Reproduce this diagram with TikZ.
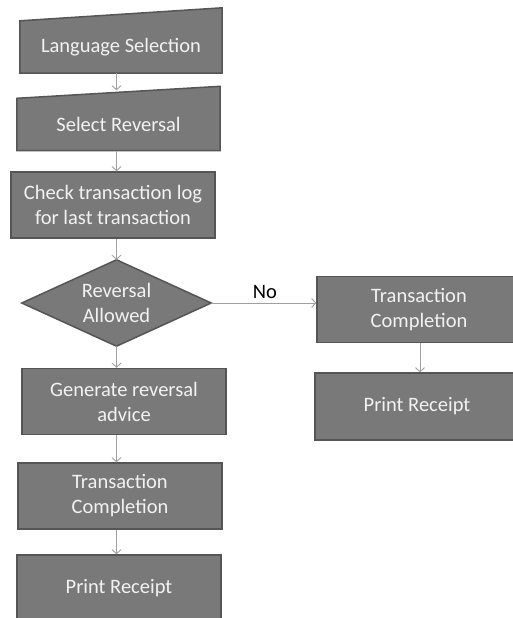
\documentclass[tikz,border=0pt]{standalone}
\usepackage{fontspec}
\setmainfont{Carlito}
\usetikzlibrary{arrows.meta,calc,backgrounds}
\definecolor{boxfill}{HTML}{797979}
\definecolor{boxline}{HTML}{555555}
\definecolor{boxtext}{HTML}{F2F2F2}
\definecolor{arrowc}{HTML}{A0A0A0}
\begin{document}
\begin{tikzpicture}[x=1pt,y=-1pt,
  txt/.style={text=boxtext, font=\fontsize{20.5}{25}\selectfont, align=center, inner sep=0pt},
  box/.style={txt, draw=boxline, fill=boxfill, line width=1.5pt, minimum width=204pt, minimum height=66pt},
  manual/.style={txt, minimum width=#1, minimum height=52pt},
  shapeline/.style={draw=boxline, fill=boxfill, line width=1.5pt, line join=miter},
  dec/.style={txt, minimum width=189pt, minimum height=86pt},
  arr/.style={draw=arrowc, line width=0.9pt, -{Straight Barb[length=4pt,width=9pt]}},
  lbl/.style={font=\fontsize{20.5}{25}\selectfont, text=black, inner sep=0pt}]
\useasboundingbox (0,0) rectangle (513,618);
\clip (0,0) rectangle (513,618);
% manual input shapes
\node[manual=202pt] (ls) at (121,47) {Language Selection};
\node[manual=203pt] (sr) at (118.5,124.5) {Select Reversal};
% decision
\node[dec] (dia) at (116.5,303) {Reversal\\Allowed};
\begin{scope}[on background layer]
  \path[shapeline] (ls.south west) -- (ls.south east) -- ($(ls.north east)+(0,-13)$) -- (ls.north west) -- cycle;
  \path[shapeline] (sr.south west) -- (sr.south east) -- ($(sr.north east)+(0,-12)$) -- (sr.north west) -- cycle;
  \path[shapeline] (dia.west) -- (dia.north) -- (dia.east) -- (dia.south) -- cycle;
\end{scope}
% left column
\node[box] (ct) at (113,205) {Check transaction log\\for last transaction};
\node[box] (gr) at (124,401.5) {Generate reversal\\advice};
\node[box] (tc) at (120,496) {Transaction\\Completion};
\node[box] (pr) at (119,588) {Print Receipt};
% right column
\node[box] (rtc) at (419,309.5) {Transaction\\Completion};
\node[box, minimum height=67pt] (rpr) at (417,406.5) {Print Receipt};
% label
\node[lbl] (no) at (265,292) {No};
% connectors
\draw[arr] (dia |- ls.south) -- ($(dia |- sr.north)+(0,-8)$);
\draw[arr] (dia |- sr.south) -- (dia |- ct.north);
\draw[arr] (ct.south -| dia) -- (dia.north);
\draw[arr] (dia.south) -- (dia |- gr.north);
\draw[arr] (dia |- gr.south) -- (dia |- tc.north);
\draw[arr] (dia |- tc.south) -- (dia |- pr.north);
\draw[arr] (dia.east) -- (dia.east -| rtc.west);
\draw[arr] (rtc.south -| 420,0) -- (rpr.north -| 420,0);
\end{tikzpicture}
\end{document}
